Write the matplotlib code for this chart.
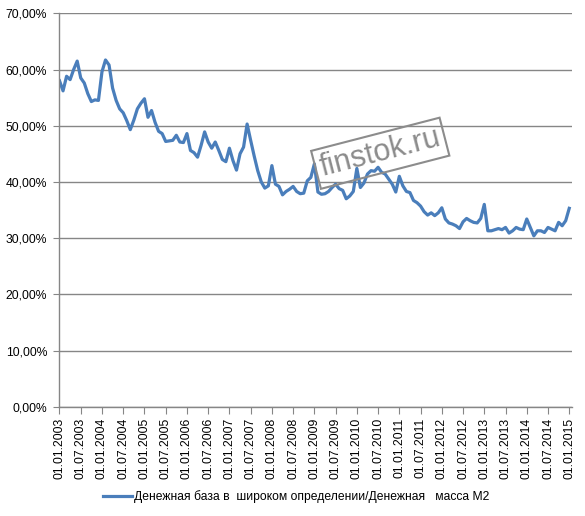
import matplotlib
matplotlib.use("Agg")
import matplotlib.pyplot as plt
from matplotlib.ticker import FuncFormatter

# месячные значения, 01.01.2003 - 01.01.2015, %
values = [
    58.0, 56.2, 58.8, 58.2, 60.0, 61.5, 58.5, 57.6, 55.7, 54.3, 54.6, 54.5,
    59.6, 61.7, 60.8, 56.7, 54.5, 53.0, 52.3, 50.9, 49.3, 51.0, 53.0, 54.0,
    54.8, 51.5, 52.7, 50.6, 49.0, 48.6, 47.2, 47.3, 47.4, 48.3, 47.1, 47.0,
    48.6, 45.6, 45.2, 44.4, 46.5, 48.9, 47.1, 46.0, 47.1, 45.6, 44.0, 43.6,
    46.0, 43.8, 42.1, 45.0, 46.2, 50.3, 47.4, 44.6, 42.0, 40.0, 38.9, 39.3,
    42.9, 39.6, 39.2, 37.7, 38.3, 38.7, 39.2, 38.3, 37.9, 38.0, 40.2, 40.8,
    43.2, 38.2, 37.8, 37.9, 38.3, 39.0, 39.6, 38.8, 38.5, 37.0, 37.5, 38.3,
    42.4, 39.0, 39.8, 41.4, 42.0, 41.9, 42.6, 41.7, 41.4, 40.5, 39.6, 38.2,
    41.0, 39.3, 38.3, 38.1, 36.7, 36.3, 35.7, 34.7, 34.1, 34.5, 34.0, 34.5,
    35.4, 33.4, 32.7, 32.5, 32.2, 31.7, 32.9, 33.5, 33.1, 32.8, 32.7, 33.5,
    36.0, 31.3, 31.3, 31.5, 31.7, 31.5, 31.9, 30.9, 31.3, 31.9, 31.6, 31.5,
    33.4, 31.9, 30.4, 31.3, 31.3, 31.0, 31.9, 31.6, 31.3, 32.8, 32.2, 33.1,
    35.3,
]
months = list(range(len(values)))
tick_labels = []
for year in range(2003, 2015):
    tick_labels.append("01.01.%d" % year)
    tick_labels.append("01.07.%d" % year)
tick_labels.append("01.01.2015")
series_name = "Денежная база в  широком определении/Денежная   масса М2"

plt.rcParams['font.family'] = ['Liberation Sans', 'DejaVu Sans']

fig = plt.figure(figsize=(5.85, 5.16), dpi=100)
ax = fig.add_axes([0.1017, 0.2118, 0.8756, 0.7624])

line, = ax.plot(months, values, color='#4A7EBB', linewidth=2.3, label=series_name,
                solid_joinstyle='round')

ax.set_xlim(0, 144.7)
ax.set_ylim(0, 70)
ax.set_yticks(range(0, 71, 10))
ax.yaxis.set_major_formatter(FuncFormatter(lambda v, p: ("%.2f%%" % v).replace('.', ',')))
ax.set_xticks(range(0, 145, 6))
ax.set_xticklabels(tick_labels, rotation=90)

ax.grid(axis='y', color='#868686', linewidth=1.0)
ax.set_axisbelow(True)
for s in ['top', 'right']:
    ax.spines[s].set_visible(False)
for s in ['left', 'bottom']:
    ax.spines[s].set_color('#868686')
    ax.spines[s].set_linewidth(1.0)
ax.tick_params(axis='y', length=4, color='#868686', pad=5, labelsize=8.7)
ax.tick_params(axis='x', length=5, color='#868686', pad=3, labelsize=8.7)

# водяной знак
fig.text(0.65, 0.703, "finstok.ru", fontsize=22, color='#7f7f7f', alpha=0.9,
         rotation=14.5, ha='center', va='center', rotation_mode='anchor',
         bbox=dict(boxstyle='square,pad=0.15', facecolor='none',
                   edgecolor='#8c8c8c', linewidth=1.5))

fig.legend(handles=[line], loc='center', bbox_to_anchor=(0.506, 0.037),
           frameon=False, fontsize=8.7, handlelength=2.4, handletextpad=0.2)

fig.savefig("out.png", dpi=100)
